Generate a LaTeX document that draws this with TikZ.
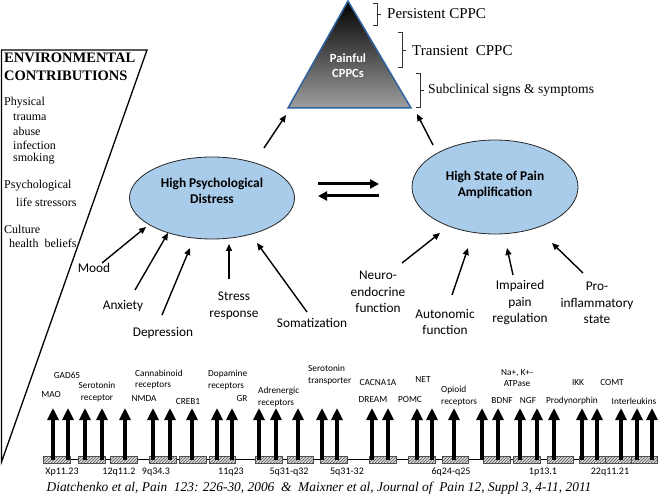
\documentclass[tikz,border=0pt]{standalone}
\usepackage{fontspec}
\setmainfont{Liberation Serif}
\setsansfont{Carlito}
\usetikzlibrary{arrows.meta,shapes.geometric,patterns}
\definecolor{ellfill}{RGB}{169,204,234}
\definecolor{pyrblue}{RGB}{46,100,160}
\begin{document}
\begin{tikzpicture}[x=1pt,y=-1pt,
 lab/.style={font=\sffamily\fontsize{13.3}{16.5}\selectfont, align=center, inner sep=0},
 gene/.style={font=\sffamily\fontsize{9.3}{11.5}\selectfont, align=center, inner sep=0},
 geneL/.style={gene, align=left, anchor=west},
 chrom/.style={font=\sffamily\fontsize{10}{12}\selectfont, inner sep=0},
 ell/.style={ellipse, draw=black!85, line width=0.8pt, fill=ellfill, inner sep=0},
 elltxt/.style={font=\sffamily\bfseries\fontsize{13.4}{16}\selectfont, align=center, inner sep=0},
 inarrow/.style={line width=1.4pt, -{Triangle[width=6pt,length=7pt]}},
 bigarrow/.style={line width=3pt, -{Triangle[width=9pt,length=9pt]}},
 genearrow/.style={line width=3.6pt, -{Triangle[width=11pt,length=12pt]}},
 genebox/.style={draw=black!70, line width=0.6pt, fill=gray!30, postaction={pattern=north east lines, pattern color=black!65}},
 envhead/.style={font=\rmfamily\bfseries\fontsize{14.5}{17}\selectfont, anchor=west, inner sep=0},
 envtxt/.style={font=\rmfamily\fontsize{12}{14}\selectfont, anchor=west, inner sep=0},
 brk/.style={font=\rmfamily\fontsize{15}{18}\selectfont, anchor=west, inner sep=0},
 brace/.style={line width=0.7pt, black!80}
]
\useasboundingbox (0,0) rectangle (660,502);

% left environmental panel
\draw[line width=1.3pt, line join=miter] (1.5,50) -- (147,50) -- (1.5,462) -- cycle;
\node[envhead] (env1) at (4,58) {ENVIRONMENTAL};
\node[envhead] (env2) at (4,76) {CONTRIBUTIONS};
\node[envtxt] (p1) at (4,103) {Physical};
\node[envtxt] (p2) at (13,117) {trauma};
\node[envtxt] (p3) at (13,131) {abuse};
\node[envtxt] (p4) at (13,145) {infection};
\node[envtxt] (p5) at (13,159) {smoking};
\node[envtxt] (q1) at (4,186) {Psychological};
\node[envtxt] (q2) at (16,202) {life stressors};
\node[envtxt] (r1) at (4,229) {Culture};
\node[envtxt] (r2) at (9,243) {health\ \ beliefs};

% pyramid
\shade[top color=black, middle color=black!88, bottom color=black!38] (348,1) -- (411,108) -- (288,108) -- cycle;
\draw[pyrblue, line width=1.5pt, line join=miter] (348,1) -- (411,108) -- (288,108) -- cycle;
\node[font=\sffamily\bfseries\fontsize{12.5}{15}\selectfont, text=white, align=center, inner sep=0] (pyr) at (348,66) {Painful\\CPPCs};

% brackets
\draw[brace] (373,3) -- (377,3) -- (377,25) -- (373,25) (377,14) -- (381,14);
\node[brk] (persist) at (387,14) {Persistent CPPC};
\draw[brace] (398,32) -- (402,32) -- (402,67) -- (398,67) (402,50) -- (406,50);
\node[brk] (trans) at (412,51) {Transient\ \ CPPC};
\draw[brace] (416,73) -- (420,73) -- (420,107) -- (416,107) (420,90) -- (424,90);
\node[brk, font=\rmfamily\fontsize{13.6}{17}\selectfont] (subc) at (428,90) {Subclinical signs \& symptoms};

% ellipses
\node[ell, minimum width=165pt, minimum height=82pt] (psd) at (212,198) {};
\node[elltxt] (psdtxt) at (212,191) {High Psychological\\Distress};
\node[ell, minimum width=166pt, minimum height=94pt] (hpa) at (495,187) {};
\node[elltxt] (hpatxt) at (495,185) {High State of Pain\\Amplification};

% arrows to pyramid
\coordinate (lp1) at (264,148); \coordinate (lp2) at (286,115);
\coordinate (rp1) at (433,145); \coordinate (rp2) at (417,114);
\draw[inarrow] (lp1) -- (lp2);
\draw[inarrow] (rp1) -- (rp2);

% double arrows
\coordinate (da1) at (318,184); \coordinate (da2) at (379,184);
\coordinate (db1) at (379,196); \coordinate (db2) at (318,196);
\draw[bigarrow] (da1) -- (da2);
\draw[bigarrow] (db1) -- (db2);

% inputs left
\node[lab] (mood) at (94,268) {Mood};
\node[lab] (anx) at (123,306) {Anxiety};
\node[lab] (dep) at (163,333) {Depression};
\node[lab] (stress) at (234,306) {Stress\\response};
\node[lab] (som) at (312,323) {Somatization};
\coordinate (m1) at (102,263); \coordinate (m2) at (146,227);
\coordinate (a1) at (135,290); \coordinate (a2) at (168,233);
\coordinate (d1) at (162,315); \coordinate (d2) at (190,248);
\coordinate (s1) at (229,279); \coordinate (s2) at (229,244);
\coordinate (z1) at (307,312); \coordinate (z2) at (257,243);
\draw[inarrow] (m1) -- (m2);
\draw[inarrow] (a1) -- (a2);
\draw[inarrow] (d1) -- (d2);
\draw[inarrow] (s1) -- (s2);
\draw[inarrow] (z1) -- (z2);

% inputs right
\node[lab] (neuro) at (378,292) {Neuro-\\endocrine\\function};
\node[lab] (auto) at (445,322) {Autonomic\\function};
\node[lab] (impair) at (520,303) {Impaired\\pain\\regulation};
\node[lab] (proinf) at (597,303) {Pro-\\inflammatory\\state};
\coordinate (n1) at (402,263); \coordinate (n2) at (440,233);
\coordinate (u1) at (452,295); \coordinate (u2) at (468,248);
\coordinate (i1) at (513,275); \coordinate (i2) at (507,248);
\coordinate (f1) at (583,273); \coordinate (f2) at (552,243);
\draw[inarrow] (n1) -- (n2);
\draw[inarrow] (u1) -- (u2);
\draw[inarrow] (i1) -- (i2);
\draw[inarrow] (f1) -- (f2);

% gene labels
\node[gene] (gad) at (67,375) {GAD65};
\node[gene] (ser) at (97,392) {Serotonin\\receptor};
\node[gene] (mao) at (51,395) {MAO};
\node[geneL] (canna) at (135,379.5) {Cannabinoid\\receptors};
\node[gene] (nmda) at (144,399) {NMDA};
\node[gene] (creb) at (188,402) {CREB1};
\node[geneL] (dopa) at (208,380) {Dopamine\\receptors};
\node[gene] (gr) at (242,399) {GR};
\node[geneL] (adren) at (258,397) {Adrenergic\\receptors};
\node[geneL] (sert) at (308,375) {Serotonin\\transporter};
\node[gene] (cacna) at (378,383) {CACNA1A};
\node[gene] (net) at (423,380) {NET};
\node[gene] (dream) at (373,400) {DREAM};
\node[gene] (pomc) at (410,400) {POMC};
\node[geneL] (opioid) at (441,396) {Opioid\\receptors};
\node[gene] (nak) at (517,378) {Na+, K+-\\ATPase};
\node[gene] (bdnf) at (502,401) {BDNF};
\node[gene] (ngf) at (528,401) {NGF};
\node[gene] (ikk) at (578,383) {IKK};
\node[gene] (comt) at (612,383) {COMT};
\node[gene] (prody) at (572,401) {Prodynorphin};
\node[gene] (inter) at (634,401) {Interleukins};

% chromosome line and boxes
\coordinate (cl1) at (43,459.5); \coordinate (cl2) at (657,459.5);
\draw[line width=0.8pt] (cl1) -- (cl2);
\foreach \a/\b in {43/70,78/105,110/137,149/176,179/206,209/235,255/282,287/313,320/347,369/396,408/435,442/468,483/510,513/540,547/573,579/605,605/631,631/657}
  \draw[genebox] (\a,456) rectangle (\b,463);
\foreach \x [count=\i] in {53,68,85,102,125,153,170,192,217,232,259,276,298,322,337,372,388,417,432,454,482,498,520,537,554,582,597,621,637,652} {
  \coordinate (gb\i) at (\x,460);
  \coordinate (gt\i) at (\x,408);
  \draw[genearrow] (gb\i) -- (gt\i);
}

% chromosome labels
\node[chrom] (c1) at (62,472) {Xp11.23};
\node[chrom] (c2) at (119,472) {12q11.2};
\node[chrom] (c3) at (156,472) {9q34.3};
\node[chrom] (c4) at (231,472) {11q23};
\node[chrom] (c5) at (289,472) {5q31-q32};
\node[chrom] (c6) at (347,472) {5q31-32};
\node[chrom] (c7) at (451,472) {6q24-q25};
\node[chrom] (c8) at (543,472) {1p13.1};
\node[chrom] (c9) at (610,472) {22q11.21};

% citation
\node[font=\rmfamily\itshape\fontsize{13.4}{15}\selectfont, inner sep=0] (cite) at (319,488) {Diatchenko et al, Pain\ \ 123: 226-30, 2006\ \ \&\ \ Maixner et al, Journal of\ \ Pain 12, Suppl 3, 4-11, 2011};
\end{tikzpicture}
\end{document}
